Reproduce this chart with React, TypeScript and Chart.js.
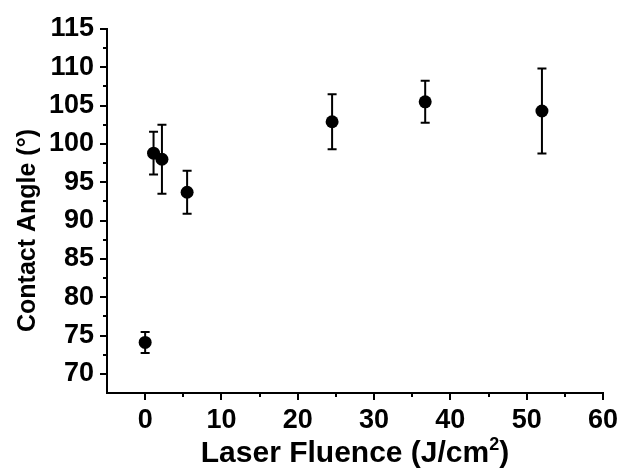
import React, { useEffect, useRef } from "react";
import { Chart, registerables } from "chart.js";

Chart.register(...registerables);

// Data
const fluence = [0, 1.1, 2.2, 5.5, 24.5, 36.7, 52.0];
const contactAngle = [74.1, 98.8, 98.0, 93.7, 102.9, 105.5, 104.3];
const angleError = [1.37, 2.8, 4.5, 2.8, 3.6, 2.75, 5.55];

const xMajorTicks = [0, 10, 20, 30, 40, 50, 60];
const xMinorTicks = [5, 15, 25, 35, 45, 55];
const yMajorTicks = [70, 75, 80, 85, 90, 95, 100, 105, 110, 115];
const yMinorTicks = [72.5, 77.5, 82.5, 87.5, 92.5, 97.5, 102.5, 107.5, 112.5];

const xTitleMain = "Laser Fluence (J/cm";
const xTitleSup = "2";
const xTitleEnd = ")";
const yTitle = "Contact Angle (°)";

const FONT = '"Liberation Sans", Arial, Helvetica, sans-serif';

const extrasPlugin = {
  id: "extras",
  afterDatasetsDraw(chart: any) {
    const ctx = chart.ctx;
    const xs = chart.scales.x;
    const ys = chart.scales.y;
    ctx.save();
    ctx.strokeStyle = "#000";
    ctx.lineWidth = 2;
    // error bars
    for (let i = 0; i < fluence.length; i++) {
      const px = xs.getPixelForValue(fluence[i]);
      const top = ys.getPixelForValue(contactAngle[i] + angleError[i]);
      const bot = ys.getPixelForValue(contactAngle[i] - angleError[i]);
      ctx.beginPath();
      ctx.moveTo(px, top);
      ctx.lineTo(px, bot);
      ctx.moveTo(px - 4.5, top);
      ctx.lineTo(px + 4.5, top);
      ctx.moveTo(px - 4.5, bot);
      ctx.lineTo(px + 4.5, bot);
      ctx.stroke();
    }
    ctx.restore();
  },
  afterDraw(chart: any) {
    const ctx = chart.ctx;
    const xs = chart.scales.x;
    const ys = chart.scales.y;
    const area = chart.chartArea;
    ctx.save();
    ctx.strokeStyle = "#000";
    ctx.lineWidth = 2;
    // minor ticks
    ctx.beginPath();
    for (const v of xMinorTicks) {
      const px = Math.round(xs.getPixelForValue(v));
      ctx.moveTo(px, area.bottom);
      ctx.lineTo(px, area.bottom + 4);
    }
    for (const v of yMinorTicks) {
      const py = Math.round(ys.getPixelForValue(v));
      ctx.moveTo(area.left, py);
      ctx.lineTo(area.left - 4, py);
    }
    ctx.stroke();

    // axis titles
    ctx.fillStyle = "#000";
    ctx.font = `bold 30px ${FONT}`;
    ctx.textBaseline = "alphabetic";
    const mainW = ctx.measureText(xTitleMain).width;
    const endW = ctx.measureText(xTitleEnd).width;
    ctx.font = `bold 18px ${FONT}`;
    const supW = ctx.measureText(xTitleSup).width;
    const total = mainW + supW + endW;
    const cx = (area.left + area.right) / 2;
    const x0 = cx - total / 2;
    const baseY = 462;
    ctx.textAlign = "left";
    ctx.font = `bold 30px ${FONT}`;
    ctx.fillText(xTitleMain, x0, baseY);
    ctx.font = `bold 18px ${FONT}`;
    ctx.fillText(xTitleSup, x0 + mainW, baseY - 12);
    ctx.font = `bold 30px ${FONT}`;
    ctx.fillText(xTitleEnd, x0 + mainW + supW, baseY);

    // y title
    ctx.translate(34.5, 230.5);
    ctx.rotate(-Math.PI / 2);
    ctx.textAlign = "center";
    ctx.font = `bold 25px ${FONT}`;
    ctx.fillText(yTitle, 0, 0);
    ctx.restore();
  },
};

export default function App() {
  const canvasRef = useRef<HTMLCanvasElement | null>(null);

  useEffect(() => {
    document.body.style.margin = "0";
    const canvas = canvasRef.current;
    if (!canvas) return;
    const chart = new Chart(canvas, {
      type: "scatter",
      data: {
        datasets: [
          {
            data: fluence.map((x, i) => ({ x, y: contactAngle[i] })),
            backgroundColor: "#000",
            borderColor: "#000",
            borderWidth: 0,
            pointRadius: 6.5,
            pointHoverRadius: 6.5,
          },
        ],
      },
      options: {
        animation: false,
        responsive: false,
        devicePixelRatio: 1,
        events: [],
        layout: { padding: { top: 29, right: 19, left: 0, bottom: 0 } },
        plugins: {
          legend: { display: false },
          tooltip: { enabled: false },
        },
        scales: {
          x: {
            type: "linear",
            min: -5,
            max: 60,
            afterBuildTicks: (scale: any) => {
              scale.ticks = xMajorTicks.map((v) => ({ value: v }));
            },
            afterFit: (scale: any) => {
              scale.height = 76;
            },
            border: { display: true, color: "#000", width: 2 },
            grid: {
              display: true,
              drawOnChartArea: false,
              drawTicks: true,
              tickLength: 7,
              color: "#000",
              lineWidth: 2,
            },
            ticks: {
              color: "#000",
              padding: 4,
              maxRotation: 0,
              autoSkip: false,
              font: { family: FONT, size: 27, weight: "bold" },
            },
          },
          y: {
            type: "linear",
            min: 67.5,
            max: 115,
            afterBuildTicks: (scale: any) => {
              scale.ticks = yMajorTicks.map((v) => ({ value: v }));
            },
            afterFit: (scale: any) => {
              scale.width = 107;
            },
            border: { display: true, color: "#000", width: 2 },
            grid: {
              display: true,
              drawOnChartArea: false,
              drawTicks: true,
              tickLength: 7,
              color: "#000",
              lineWidth: 2,
            },
            ticks: {
              color: "#000",
              padding: 6,
              autoSkip: false,
              font: { family: FONT, size: 27, weight: "bold" },
            },
          },
        },
      },
      plugins: [extrasPlugin],
    } as any);
    return () => chart.destroy();
  }, []);

  return (
    <div style={{ position: "absolute", left: 0, top: 0, width: 622, height: 469, background: "#fff" }}>
      <canvas ref={canvasRef} width={622} height={469} style={{ display: "block" }} />
    </div>
  );
}
